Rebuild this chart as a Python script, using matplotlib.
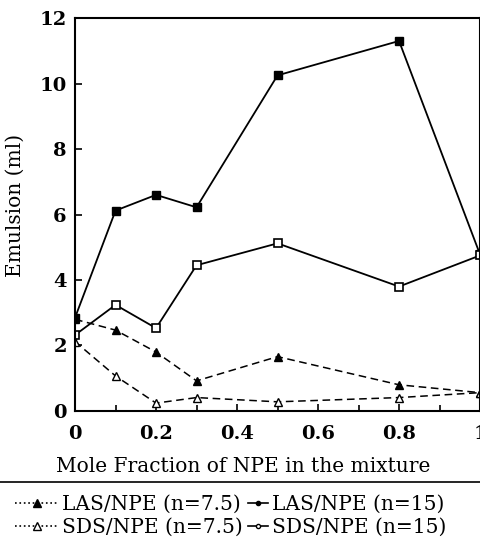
import matplotlib
matplotlib.use("Agg")
import matplotlib.pyplot as plt
from matplotlib.lines import Line2D
from matplotlib.ticker import MultipleLocator

# mole fraction of NPE
mole_fraction = [0, 0.1, 0.2, 0.3, 0.5, 0.8, 1.0]

# emulsion volume (ml)
las_npe_75 = [2.8, 2.47, 1.8, 0.92, 1.66, 0.8, 0.56]
sds_npe_75 = [2.12, 1.07, 0.24, 0.41, 0.28, 0.41, 0.56]
las_npe_15 = [2.85, 6.12, 6.6, 6.22, 10.25, 11.3, 4.78]
sds_npe_15 = [2.32, 3.24, 2.53, 4.45, 5.12, 3.8, 4.75]

x_tick_labels = ["0", "0.2", "0.4", "0.6", "0.8", "1"]
labels_75 = ["LAS/NPE (n=7.5)", "SDS/NPE (n=7.5)"]
labels_15 = ["LAS/NPE (n=15)", "SDS/NPE (n=15)"]

plt.rcParams["font.family"] = ["DejaVu Serif"]

fig = plt.figure(figsize=(4.81, 5.39), dpi=100)
ax = fig.add_axes([0.156, 0.2375, 0.842, 0.729])

ax.plot(mole_fraction, las_npe_15, "-", color="black", lw=1.3,
        marker="s", ms=6, mfc="black", mec="black")
ax.plot(mole_fraction, sds_npe_15, "-", color="black", lw=1.3,
        marker="s", ms=6, mfc="white", mec="black", mew=1.2)
ax.plot(mole_fraction, las_npe_75, color="black", lw=1.1, ls=(0, (5, 3)),
        marker="^", ms=6, mfc="black", mec="black")
ax.plot(mole_fraction, sds_npe_75, color="black", lw=1.1, ls=(0, (5, 3)),
        marker="^", ms=6, mfc="white", mec="black", mew=1.0)

ax.set_xlim(0, 1.0)
ax.set_ylim(0, 12)
ax.set_xticks([0, 0.2, 0.4, 0.6, 0.8, 1.0])
ax.set_xticklabels(x_tick_labels)
ax.xaxis.set_minor_locator(MultipleLocator(0.1))
ax.yaxis.set_major_locator(MultipleLocator(2))
ax.tick_params(direction="in", which="both", labelsize=14, width=1.2)
ax.tick_params(which="major", length=5)
ax.tick_params(which="minor", length=4)
ax.tick_params(axis="x", pad=10)
ax.tick_params(axis="y", pad=6)
for lbl in ax.get_xticklabels() + ax.get_yticklabels():
    lbl.set_fontweight("bold")
for spine in ax.spines.values():
    spine.set_linewidth(1.5)

ax.set_xlabel("Mole Fraction of NPE in the mixture", fontsize=14.5)
ax.xaxis.set_label_coords(0.415, -0.118)
ax.set_ylabel("Emulsion (ml)", fontsize=14.5)
ax.yaxis.set_label_coords(-0.125, 0.522)

fig.add_artist(Line2D([0, 1], [0.1058, 0.1058], transform=fig.transFigure,
                      color="black", lw=1.2))

handles_75 = [
    Line2D([], [], color="black", ls=":", lw=1.2, marker="^", ms=6, mfc="black"),
    Line2D([], [], color="black", ls=":", lw=1.2, marker="^", ms=6, mfc="white"),
]
handles_15 = [
    Line2D([], [], color="black", ls="-", lw=1.2, marker="o", ms=3, mfc="black"),
    Line2D([], [], color="black", ls="-", lw=1.2, marker="o", ms=3, mfc="white"),
]
leg_kw = dict(frameon=False, fontsize=14.5, handletextpad=0.2,
              labelspacing=0.2, borderpad=0, borderaxespad=0)
fig.legend(handles_75, labels_75, loc="lower left",
           bbox_to_anchor=(0.032, 0.004), handlelength=2.1, **leg_kw)
fig.legend(handles_15, labels_15, loc="lower left",
           bbox_to_anchor=(0.515, 0.004), handlelength=1.0, **leg_kw)

fig.savefig("out.png", dpi=100)
